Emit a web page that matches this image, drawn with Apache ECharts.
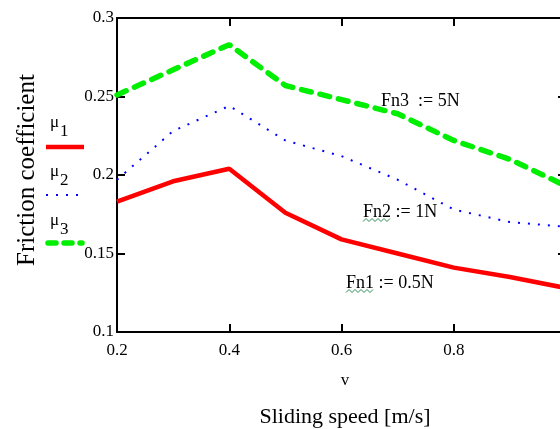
<!DOCTYPE html>
<html>
<head>
<meta charset="utf-8">
<script src="https://cdn.jsdelivr.net/npm/echarts@6.0.0/dist/echarts.min.js"></script>
<style>
  html, body { margin: 0; padding: 0; background: #fff; }
  #chart { width: 560px; height: 429px; }
</style>
</head>
<body>
<div id="chart"></div>
<script>
// sliding speed v [m/s]
const speeds = [0.2, 0.3, 0.4, 0.5, 0.6, 0.7, 0.8, 0.9, 1.0];
// friction coefficient for each normal load
const mu1 = [0.183, 0.196, 0.204, 0.176, 0.159, 0.150, 0.141, 0.135, 0.128]; // Fn1 = 0.5N
const mu2 = [0.197, 0.228, 0.244, 0.222, 0.212, 0.197, 0.178, 0.170, 0.167]; // Fn2 = 1N
const mu3 = [0.251, 0.267, 0.283, 0.257, 0.248, 0.239, 0.222, 0.210, 0.193]; // Fn3 = 5N

const xTicks = ["0.2", "0.4", "0.6", "0.8"];
const yTicks = ["0.1", "0.15", "0.2", "0.25", "0.3"];

const serif = "Liberation Serif";

function pairs(vals) {
    return speeds.map((v, i) => [v, vals[i]]);
}

function squiggle(x, y, n) {
    let pts = [];
    for (let i = 0; i <= n; i++) {
        pts.push([x + i * 3, y + (i % 2 ? -1.5 : 1.5)]);
    }
    return {
        type: "polyline",
        shape: { points: pts },
        style: { stroke: "#2e8b57", lineWidth: 1, fill: null },
    };
}

function muLabel(n, x, y) {
    return {
        type: "text",
        x: x,
        y: y,
        style: {
            text: `{m|μ}{s|${n}}`,
            fill: "#000",
            verticalAlign: "middle",
            rich: {
                m: { font: `17px "${serif}"`, fill: "#000", verticalAlign: "top" },
                s: { font: `17px "${serif}"`, fill: "#000", padding: [9, 0, 0, 1] },
            },
        },
    };
}

const chart = echarts.init(document.getElementById("chart"));

const axisLine = { show: true, lineStyle: { color: "#000", width: 2 } };
const axisTick = { show: true, inside: true, length: 8, lineStyle: { color: "#000", width: 2 } };

chart.setOption({
    animation: false,
    backgroundColor: "#fff",
    grid: { left: 117, top: 18, width: 449, height: 314, outerBoundsMode: "none" },
    xAxis: [
        {
            type: "value",
            min: 0.2,
            max: 1.0,
            interval: 0.2,
            position: "bottom",
            axisLine: axisLine,
            axisTick: axisTick,
            splitLine: { show: false },
            axisLabel: {
                margin: 10,
                fontFamily: serif,
                fontSize: 17,
                color: "#000",
                formatter: (v) => {
                    let s = v.toFixed(1);
                    return xTicks.includes(s) ? s : "";
                },
            },
        },
        {
            type: "value",
            min: 0.2,
            max: 1.0,
            interval: 0.2,
            position: "top",
            axisLine: axisLine,
            axisTick: axisTick,
            splitLine: { show: false },
            axisLabel: { show: false },
        },
    ],
    yAxis: [
        {
            type: "value",
            min: 0.1,
            max: 0.3,
            interval: 0.05,
            position: "left",
            axisLine: axisLine,
            axisTick: axisTick,
            splitLine: { show: false },
            axisLabel: {
                margin: 3,
                fontFamily: serif,
                fontSize: 17,
                color: "#000",
                formatter: (v) => {
                    let s = String(parseFloat(v.toFixed(2)));
                    return yTicks.includes(s) ? s : "";
                },
            },
        },
        {
            type: "value",
            min: 0.1,
            max: 0.3,
            interval: 0.05,
            position: "right",
            axisLine: axisLine,
            axisTick: axisTick,
            splitLine: { show: false },
            axisLabel: { show: false },
        },
    ],
    series: [
        {
            name: "mu1",
            type: "line",
            data: pairs(mu1),
            showSymbol: false,
            lineStyle: { color: "#ff0000", width: 4.5 },
        },
        {
            name: "mu2",
            type: "line",
            data: pairs(mu2),
            showSymbol: false,
            lineStyle: { color: "#0000ff", width: 2, type: [2, 8] },
        },
        {
            name: "mu3",
            type: "line",
            data: pairs(mu3),
            showSymbol: false,
            lineStyle: { color: "#00ee00", width: 5.5, type: [10, 9], cap: "round" },
        },
    ],
    graphic: [
        // y axis title
        {
            type: "text",
            x: 27,
            y: 170,
            rotation: Math.PI / 2,
            style: {
                text: "Friction coefficient",
                font: `25px "${serif}"`,
                fill: "#000",
                align: "center",
                verticalAlign: "middle",
            },
        },
        // x axis labels
        {
            type: "text",
            x: 345,
            y: 381,
            style: { text: "v", font: `17px "${serif}"`, fill: "#000", align: "center", verticalAlign: "middle" },
        },
        {
            type: "text",
            x: 345,
            y: 417,
            style: { text: "Sliding speed [m/s]", font: `22px "${serif}"`, fill: "#000", align: "center", verticalAlign: "middle" },
        },
        // legend
        muLabel(1, 50, 127),
        {
            type: "line",
            shape: { x1: 46, y1: 147, x2: 84, y2: 147 },
            style: { stroke: "#ff0000", lineWidth: 4.5 },
        },
        muLabel(2, 50, 176),
        {
            type: "line",
            shape: { x1: 46, y1: 195, x2: 80, y2: 195 },
            style: { stroke: "#0000ff", lineWidth: 2, lineDash: [2, 8] },
        },
        muLabel(3, 50, 225),
        {
            type: "line",
            shape: { x1: 48, y1: 243, x2: 82, y2: 243 },
            style: { stroke: "#00ee00", lineWidth: 5.5, lineDash: [8, 8], lineCap: "round" },
        },
        // load annotations
        {
            type: "text",
            x: 381,
            y: 101,
            style: { text: "Fn3  := 5N", font: `18px "${serif}"`, fill: "#000", verticalAlign: "middle" },
        },
        {
            type: "text",
            x: 363,
            y: 212,
            style: { text: "Fn2 := 1N", font: `18px "${serif}"`, fill: "#000", verticalAlign: "middle" },
        },
        squiggle(363, 220, 9),
        {
            type: "text",
            x: 346,
            y: 283,
            style: { text: "Fn1 := 0.5N", font: `18px "${serif}"`, fill: "#000", verticalAlign: "middle" },
        },
        squiggle(346, 291, 9),
    ],
});
</script>
</body>
</html>
